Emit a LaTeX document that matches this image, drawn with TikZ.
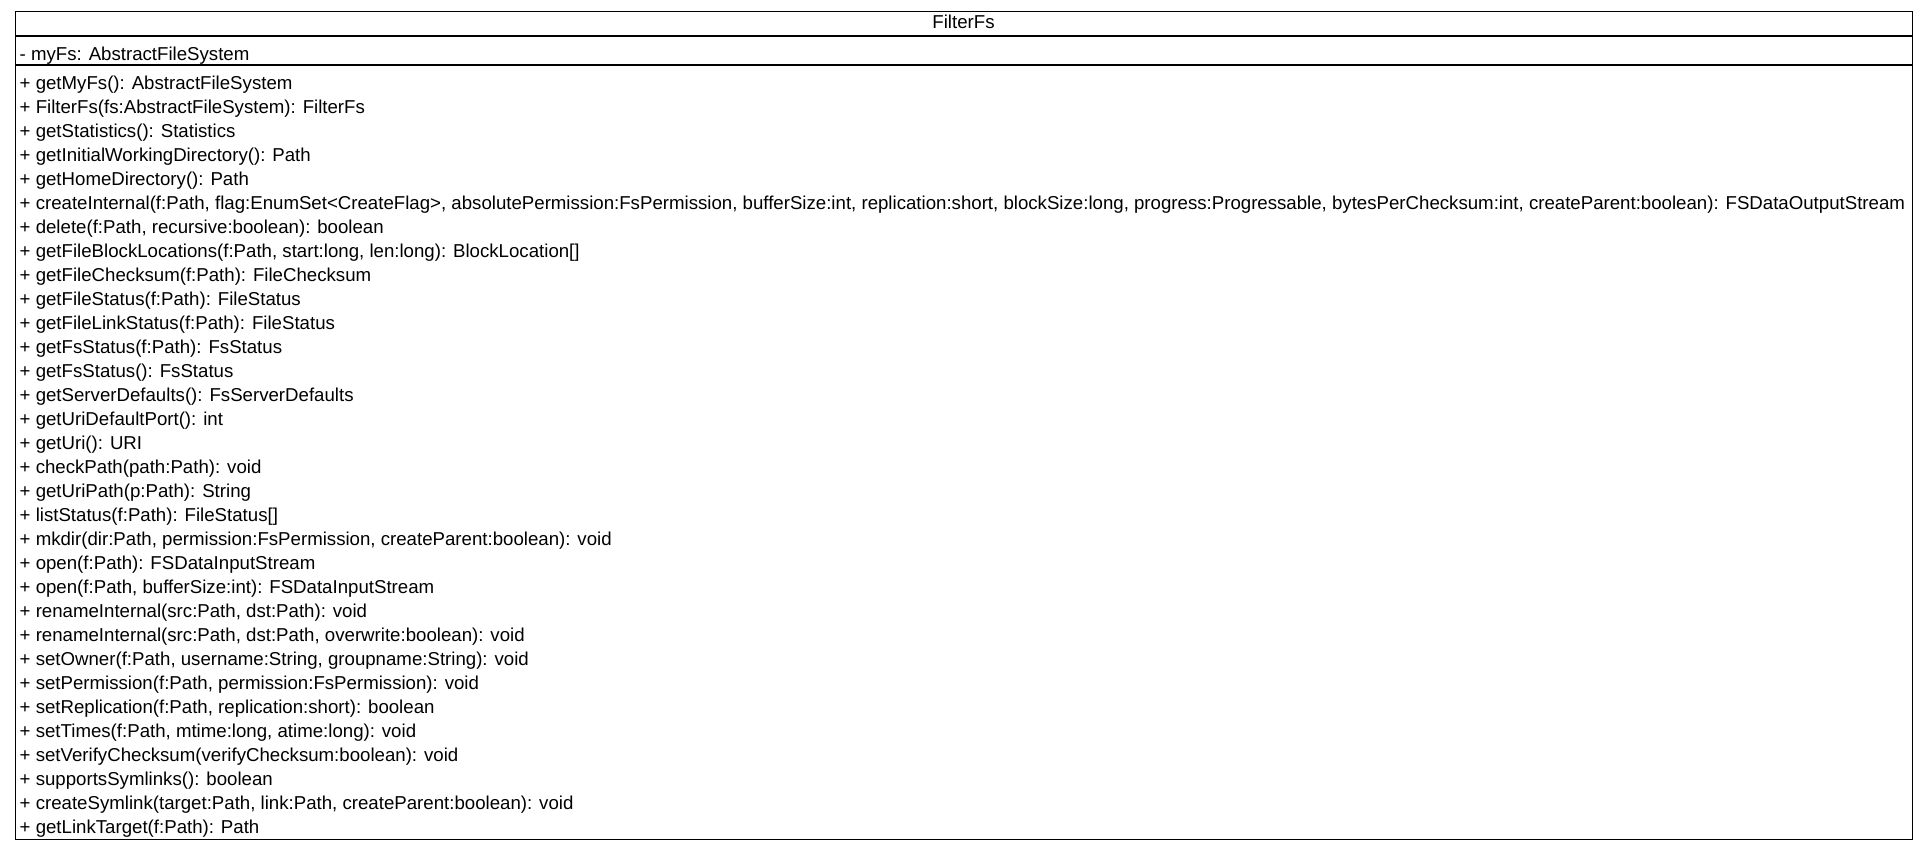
\documentclass[tikz,border=0pt]{standalone}
\usepackage{fontspec}
\setmainfont{Liberation Sans}
\begin{document}
\begin{tikzpicture}[x=1pt,y=-1pt,
  umltext/.style={anchor=base west,inner sep=0pt,font=\fontsize{18.65}{20}\selectfont},
  umltitle/.style={anchor=base,inner sep=0pt,font=\fontsize{18.65}{20}\selectfont},
  umlline/.style={draw=black,line width=1.3pt}]
\useasboundingbox (0,0) rectangle (1925,851);
\node[draw=black,line width=1.3pt,inner sep=0pt,minimum width=1897pt,minimum height=828pt,anchor=north west] (box) at (15,11) {};
\coordinate (s1l) at (15,36);
\coordinate (s1r) at (1912,36);
\coordinate (s2l) at (15,65);
\coordinate (s2r) at (1912,65);
\draw[umlline] (s1l) -- (s1r);
\draw[umlline] (s2l) -- (s2r);
\node[umltitle] (title) at (963.5,28.5) {FilterFs};
\node[umltext] (attr) at (19.5,60) {- myFs: AbstractFileSystem};
\foreach \t [count=\i] in {
{+ getMyFs(): AbstractFileSystem},
{+ FilterFs(fs:AbstractFileSystem): FilterFs},
{+ getStatistics(): Statistics},
{+ getInitialWorkingDirectory(): Path},
{+ getHomeDirectory(): Path},
{+ createInternal(f:Path, flag:EnumSet<CreateFlag>, absolutePermission:FsPermission, bufferSize:int, replication:short, blockSize:long, progress:Progressable, bytesPerChecksum:int, createParent:boolean): FSDataOutputStream},
{+ delete(f:Path, recursive:boolean): boolean},
{+ getFileBlockLocations(f:Path, start:long, len:long): BlockLocation[]},
{+ getFileChecksum(f:Path): FileChecksum},
{+ getFileStatus(f:Path): FileStatus},
{+ getFileLinkStatus(f:Path): FileStatus},
{+ getFsStatus(f:Path): FsStatus},
{+ getFsStatus(): FsStatus},
{+ getServerDefaults(): FsServerDefaults},
{+ getUriDefaultPort(): int},
{+ getUri(): URI},
{+ checkPath(path:Path): void},
{+ getUriPath(p:Path): String},
{+ listStatus(f:Path): FileStatus[]},
{+ mkdir(dir:Path, permission:FsPermission, createParent:boolean): void},
{+ open(f:Path): FSDataInputStream},
{+ open(f:Path, bufferSize:int): FSDataInputStream},
{+ renameInternal(src:Path, dst:Path): void},
{+ renameInternal(src:Path, dst:Path, overwrite:boolean): void},
{+ setOwner(f:Path, username:String, groupname:String): void},
{+ setPermission(f:Path, permission:FsPermission): void},
{+ setReplication(f:Path, replication:short): boolean},
{+ setTimes(f:Path, mtime:long, atime:long): void},
{+ setVerifyChecksum(verifyChecksum:boolean): void},
{+ supportsSymlinks(): boolean},
{+ createSymlink(target:Path, link:Path, createParent:boolean): void},
{+ getLinkTarget(f:Path): Path}}
{
  \node[umltext] (m\i) at (19.5,{89+24.0*(\i-1)}) {\t};
}
\end{tikzpicture}
\end{document}
